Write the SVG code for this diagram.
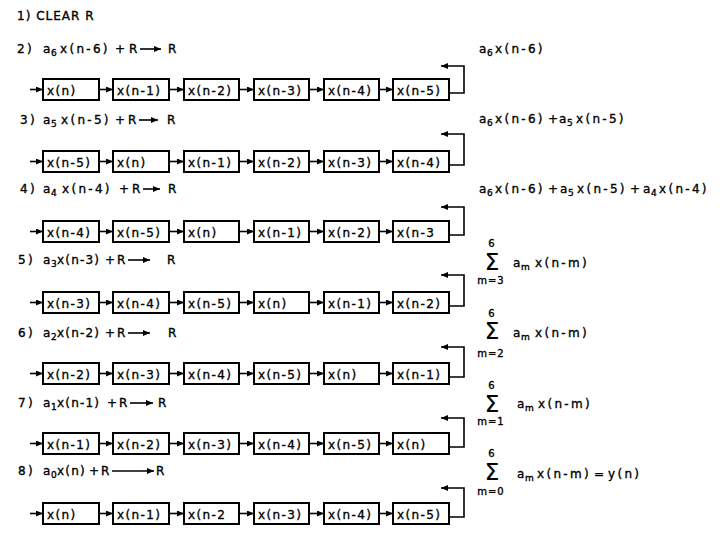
<svg xmlns="http://www.w3.org/2000/svg" width="723" height="538" viewBox="0 0 723 538">
<style>
text{font-family:"DejaVu Sans","Liberation Sans",sans-serif;fill:#000;stroke:#000;stroke-width:0.35}
.lb{font-size:12px;letter-spacing:2.3px}
.l2{font-size:12px;letter-spacing:1.2px}
.a{font-size:12px}
.bx{font-size:12px;letter-spacing:1.4px}
.cap{font-size:12px;letter-spacing:1px}
.sb{font-size:9px}
.sg{font-size:23px;stroke-width:0.2}
.sm{font-size:10px;letter-spacing:1px}
rect{fill:#fff;stroke:#000;stroke-width:2}
.c path{fill:none;stroke:#000;stroke-width:1.6}
</style>
<defs>
<marker id="ah" markerWidth="7" markerHeight="6" refX="7" refY="3" orient="auto" markerUnits="userSpaceOnUse"><path d="M0,0 L7,3 L0,6 z" fill="#000"/></marker>
</defs>

<g id="labels">
<text class="cap" x="17" y="20">1)  CLEAR  R</text>

<text class="lb" x="17" y="53">2)</text>
<text class="a" x="43" y="53">a</text><text class="sb" x="51" y="56">6</text>
<text class="lb" x="60" y="53">x(n-6)</text>
<text class="lb" x="115" y="53">+</text>
<text class="lb" x="129" y="53">R</text>
<text class="lb" x="168" y="53">R</text>

<text class="lb" x="20" y="124">3)</text>
<text class="a" x="43" y="124">a</text><text class="sb" x="51" y="127">5</text>
<text class="lb" x="61" y="124">x(n-5)</text>
<text class="lb" x="115" y="124">+</text>
<text class="lb" x="128" y="124">R</text>
<text class="lb" x="167" y="124">R</text>

<text class="lb" x="20" y="193">4)</text>
<text class="a" x="43" y="193">a</text><text class="sb" x="51" y="196">4</text>
<text class="lb" x="62" y="193">x(n-4)</text>
<text class="lb" x="119" y="193">+</text>
<text class="lb" x="132" y="193">R</text>
<text class="lb" x="168" y="193">R</text>

<text class="lb" x="18" y="264">5)</text>
<text class="a" x="43" y="264">a</text><text class="sb" x="51" y="267">3</text>
<text class="l2" x="57" y="264">x(n-3)</text>
<text class="lb" x="105" y="264">+</text>
<text class="lb" x="117" y="264">R</text>
<text class="lb" x="167" y="264">R</text>

<text class="lb" x="18" y="337">6)</text>
<text class="a" x="43" y="337">a</text><text class="sb" x="51" y="340">2</text>
<text class="l2" x="57" y="337">x(n-2)</text>
<text class="lb" x="105" y="337">+</text>
<text class="lb" x="117" y="337">R</text>
<text class="lb" x="168" y="337">R</text>

<text class="lb" x="18" y="407">7)</text>
<text class="a" x="43" y="407">a</text><text class="sb" x="51" y="410">1</text>
<text class="l2" x="57" y="407">x(n-1)</text>
<text class="lb" x="107" y="407">+</text>
<text class="lb" x="119" y="407">R</text>
<text class="lb" x="158" y="407">R</text>

<text class="lb" x="18" y="475">8)</text>
<text class="a" x="43" y="475">a</text><text class="sb" x="51" y="478">0</text>
<text class="l2" x="57" y="475">x(n)</text>
<text class="lb" x="89" y="475">+</text>
<text class="lb" x="101" y="475">R</text>
<text class="lb" x="156" y="475">R</text>
</g>

<g id="results">
<text class="a" x="479" y="53">a</text><text class="sb" x="487" y="56">6</text>
<text class="lb" x="495" y="53">x(n-6)</text>

<text class="a" x="479" y="123">a</text><text class="sb" x="487" y="126">6</text>
<text class="lb" x="495" y="123">x(n-6)</text>
<text class="lb" x="548" y="123">+</text>
<text class="a" x="559" y="123">a</text><text class="sb" x="567" y="126">5</text>
<text class="lb" x="576" y="123">x(n-5)</text>

<text class="a" x="479" y="193">a</text><text class="sb" x="487" y="196">6</text>
<text class="lb" x="495" y="193">x(n-6)</text>
<text class="lb" x="548" y="193">+</text>
<text class="a" x="560" y="193">a</text><text class="sb" x="568" y="196">5</text>
<text class="lb" x="577" y="193">x(n-5)</text>
<text class="lb" x="630" y="193">+</text>
<text class="a" x="643" y="193">a</text><text class="sb" x="651" y="196">4</text>
<text class="lb" x="659" y="193">x(n-4)</text>

<text class="sm" x="492" y="247" text-anchor="middle">6</text>
<text class="sg" x="492" y="270" text-anchor="middle">Σ</text>
<text class="sm" x="491" y="284" text-anchor="middle">m=3</text>
<text class="a" x="513" y="267">a</text><text class="sb" x="521" y="270">m</text>
<text class="lb" x="535" y="267">x(n-m)</text>

<text class="sm" x="492" y="317" text-anchor="middle">6</text>
<text class="sg" x="492" y="339" text-anchor="middle">Σ</text>
<text class="sm" x="491" y="357" text-anchor="middle">m=2</text>
<text class="a" x="513" y="337">a</text><text class="sb" x="521" y="340">m</text>
<text class="lb" x="535" y="337">x(n-m)</text>

<text class="sm" x="492" y="389" text-anchor="middle">6</text>
<text class="sg" x="492" y="412" text-anchor="middle">Σ</text>
<text class="sm" x="491" y="425" text-anchor="middle">m=1</text>
<text class="a" x="517" y="408">a</text><text class="sb" x="525" y="411">m</text>
<text class="lb" x="538" y="408">x(n-m)</text>

<text class="sm" x="492" y="457" text-anchor="middle">6</text>
<text class="sg" x="492" y="480" text-anchor="middle">Σ</text>
<text class="sm" x="491" y="495" text-anchor="middle">m=0</text>
<text class="a" x="517" y="478">a</text><text class="sb" x="525" y="481">m</text>
<text class="lb" x="537" y="478">x(n-m)</text>
<text class="lb" x="594" y="478">=</text>
<text class="lb" x="608" y="478">y(n)</text>
</g>

<g id="row2">
<g id="r2b1"><rect x="43" y="79" width="56" height="21"/><text class="bx" x="47" y="95">x(n)</text></g>
<g id="r2b2"><rect x="113" y="79" width="56" height="21"/><text class="bx" x="117" y="95">x(n-1)</text></g>
<g id="r2b3"><rect x="184" y="79" width="55" height="21"/><text class="bx" x="188" y="95">x(n-2)</text></g>
<g id="r2b4"><rect x="254" y="79" width="55" height="21"/><text class="bx" x="258" y="95">x(n-3)</text></g>
<g id="r2b5"><rect x="324" y="79" width="55" height="21"/><text class="bx" x="328" y="95">x(n-4)</text></g>
<g id="r2b6"><rect x="393" y="79" width="56" height="21"/><text class="bx" x="397" y="95">x(n-5)</text></g>
</g>
<g id="row3">
<g id="r3b1"><rect x="43" y="151" width="56" height="21"/><text class="bx" x="47" y="167">x(n-5)</text></g>
<g id="r3b2"><rect x="113" y="151" width="56" height="21"/><text class="bx" x="117" y="167">x(n)</text></g>
<g id="r3b3"><rect x="184" y="151" width="55" height="21"/><text class="bx" x="188" y="167">x(n-1)</text></g>
<g id="r3b4"><rect x="254" y="151" width="55" height="21"/><text class="bx" x="258" y="167">x(n-2)</text></g>
<g id="r3b5"><rect x="324" y="151" width="55" height="21"/><text class="bx" x="328" y="167">x(n-3)</text></g>
<g id="r3b6"><rect x="393" y="151" width="56" height="21"/><text class="bx" x="397" y="167">x(n-4)</text></g>
</g>
<g id="row4">
<g id="r4b1"><rect x="43" y="221" width="56" height="21"/><text class="bx" x="47" y="237">x(n-4)</text></g>
<g id="r4b2"><rect x="113" y="221" width="56" height="21"/><text class="bx" x="117" y="237">x(n-5)</text></g>
<g id="r4b3"><rect x="184" y="221" width="55" height="21"/><text class="bx" x="188" y="237">x(n)</text></g>
<g id="r4b4"><rect x="254" y="221" width="55" height="21"/><text class="bx" x="258" y="237">x(n-1)</text></g>
<g id="r4b5"><rect x="324" y="221" width="55" height="21"/><text class="bx" x="328" y="237">x(n-2)</text></g>
<g id="r4b6"><rect x="393" y="221" width="56" height="21"/><text class="bx" x="397" y="237">x(n-3</text></g>
</g>
<g id="row5">
<g id="r5b1"><rect x="43" y="292" width="56" height="21"/><text class="bx" x="47" y="308">x(n-3)</text></g>
<g id="r5b2"><rect x="113" y="292" width="56" height="21"/><text class="bx" x="117" y="308">x(n-4)</text></g>
<g id="r5b3"><rect x="184" y="292" width="55" height="21"/><text class="bx" x="188" y="308">x(n-5)</text></g>
<g id="r5b4"><rect x="254" y="292" width="55" height="21"/><text class="bx" x="258" y="308">x(n)</text></g>
<g id="r5b5"><rect x="324" y="292" width="55" height="21"/><text class="bx" x="328" y="308">x(n-1)</text></g>
<g id="r5b6"><rect x="393" y="292" width="56" height="21"/><text class="bx" x="397" y="308">x(n-2)</text></g>
</g>
<g id="row6">
<g id="r6b1"><rect x="43" y="363" width="56" height="21"/><text class="bx" x="47" y="379">x(n-2)</text></g>
<g id="r6b2"><rect x="113" y="363" width="56" height="21"/><text class="bx" x="117" y="379">x(n-3)</text></g>
<g id="r6b3"><rect x="184" y="363" width="55" height="21"/><text class="bx" x="188" y="379">x(n-4)</text></g>
<g id="r6b4"><rect x="254" y="363" width="55" height="21"/><text class="bx" x="258" y="379">x(n-5)</text></g>
<g id="r6b5"><rect x="324" y="363" width="55" height="21"/><text class="bx" x="328" y="379">x(n)</text></g>
<g id="r6b6"><rect x="393" y="363" width="56" height="21"/><text class="bx" x="397" y="379">x(n-1)</text></g>
</g>
<g id="row7">
<g id="r7b1"><rect x="43" y="433" width="56" height="21"/><text class="bx" x="47" y="449">x(n-1)</text></g>
<g id="r7b2"><rect x="113" y="433" width="56" height="21"/><text class="bx" x="117" y="449">x(n-2)</text></g>
<g id="r7b3"><rect x="184" y="433" width="55" height="21"/><text class="bx" x="188" y="449">x(n-3)</text></g>
<g id="r7b4"><rect x="254" y="433" width="55" height="21"/><text class="bx" x="258" y="449">x(n-4)</text></g>
<g id="r7b5"><rect x="324" y="433" width="55" height="21"/><text class="bx" x="328" y="449">x(n-5)</text></g>
<g id="r7b6"><rect x="393" y="433" width="56" height="21"/><text class="bx" x="397" y="449">x(n)</text></g>
</g>
<g id="row8">
<g id="r8b1"><rect x="43" y="503" width="56" height="21"/><text class="bx" x="47" y="519">x(n)</text></g>
<g id="r8b2"><rect x="113" y="503" width="56" height="21"/><text class="bx" x="117" y="519">x(n-1)</text></g>
<g id="r8b3"><rect x="184" y="503" width="55" height="21"/><text class="bx" x="188" y="519">x(n-2</text></g>
<g id="r8b4"><rect x="254" y="503" width="55" height="21"/><text class="bx" x="258" y="519">x(n-3)</text></g>
<g id="r8b5"><rect x="324" y="503" width="55" height="21"/><text class="bx" x="328" y="519">x(n-4)</text></g>
<g id="r8b6"><rect x="393" y="503" width="56" height="21"/><text class="bx" x="397" y="519">x(n-5)</text></g>
</g>

<g id="connectors" class="c">
<path marker-end="url(#ah)" d="M140,49 H161"/>
<path marker-end="url(#ah)" d="M139,120 H158"/>
<path marker-end="url(#ah)" d="M143,189 H160"/>
<path marker-end="url(#ah)" d="M128,260 H150"/>
<path marker-end="url(#ah)" d="M128,333 H150"/>
<path marker-end="url(#ah)" d="M130,403 H153"/>
<path marker-end="url(#ah)" d="M112,471 H154"/>

<path marker-end="url(#ah)" d="M30,89.5 H43"/><path marker-end="url(#ah)" d="M99,89.5 H113"/><path marker-end="url(#ah)" d="M169,89.5 H184"/><path marker-end="url(#ah)" d="M239,89.5 H254"/><path marker-end="url(#ah)" d="M309,89.5 H324"/><path marker-end="url(#ah)" d="M379,89.5 H393"/><path marker-end="url(#ah)" d="M449,93 H464 V66 H441"/>
<path marker-end="url(#ah)" d="M30,161.5 H43"/><path marker-end="url(#ah)" d="M99,161.5 H113"/><path marker-end="url(#ah)" d="M169,161.5 H184"/><path marker-end="url(#ah)" d="M239,161.5 H254"/><path marker-end="url(#ah)" d="M309,161.5 H324"/><path marker-end="url(#ah)" d="M379,161.5 H393"/><path marker-end="url(#ah)" d="M449,165 H464 V134 H441"/>
<path marker-end="url(#ah)" d="M30,231.5 H43"/><path marker-end="url(#ah)" d="M99,231.5 H113"/><path marker-end="url(#ah)" d="M169,231.5 H184"/><path marker-end="url(#ah)" d="M239,231.5 H254"/><path marker-end="url(#ah)" d="M309,231.5 H324"/><path marker-end="url(#ah)" d="M379,231.5 H393"/><path marker-end="url(#ah)" d="M449,235 H464 V207 H441"/>
<path marker-end="url(#ah)" d="M30,302.5 H43"/><path marker-end="url(#ah)" d="M99,302.5 H113"/><path marker-end="url(#ah)" d="M169,302.5 H184"/><path marker-end="url(#ah)" d="M239,302.5 H254"/><path marker-end="url(#ah)" d="M309,302.5 H324"/><path marker-end="url(#ah)" d="M379,302.5 H393"/><path marker-end="url(#ah)" d="M449,306 H464 V275 H441"/>
<path marker-end="url(#ah)" d="M30,373.5 H43"/><path marker-end="url(#ah)" d="M99,373.5 H113"/><path marker-end="url(#ah)" d="M169,373.5 H184"/><path marker-end="url(#ah)" d="M239,373.5 H254"/><path marker-end="url(#ah)" d="M309,373.5 H324"/><path marker-end="url(#ah)" d="M379,373.5 H393"/><path marker-end="url(#ah)" d="M449,377 H464 V347 H441"/>
<path marker-end="url(#ah)" d="M30,443.5 H43"/><path marker-end="url(#ah)" d="M99,443.5 H113"/><path marker-end="url(#ah)" d="M169,443.5 H184"/><path marker-end="url(#ah)" d="M239,443.5 H254"/><path marker-end="url(#ah)" d="M309,443.5 H324"/><path marker-end="url(#ah)" d="M379,443.5 H393"/><path marker-end="url(#ah)" d="M449,447 H464 V418 H441"/>
<path marker-end="url(#ah)" d="M30,513.5 H43"/><path marker-end="url(#ah)" d="M99,513.5 H113"/><path marker-end="url(#ah)" d="M169,513.5 H184"/><path marker-end="url(#ah)" d="M239,513.5 H254"/><path marker-end="url(#ah)" d="M309,513.5 H324"/><path marker-end="url(#ah)" d="M379,513.5 H393"/><path marker-end="url(#ah)" d="M449,517 H464 V488 H441"/>
</g>
</svg>
